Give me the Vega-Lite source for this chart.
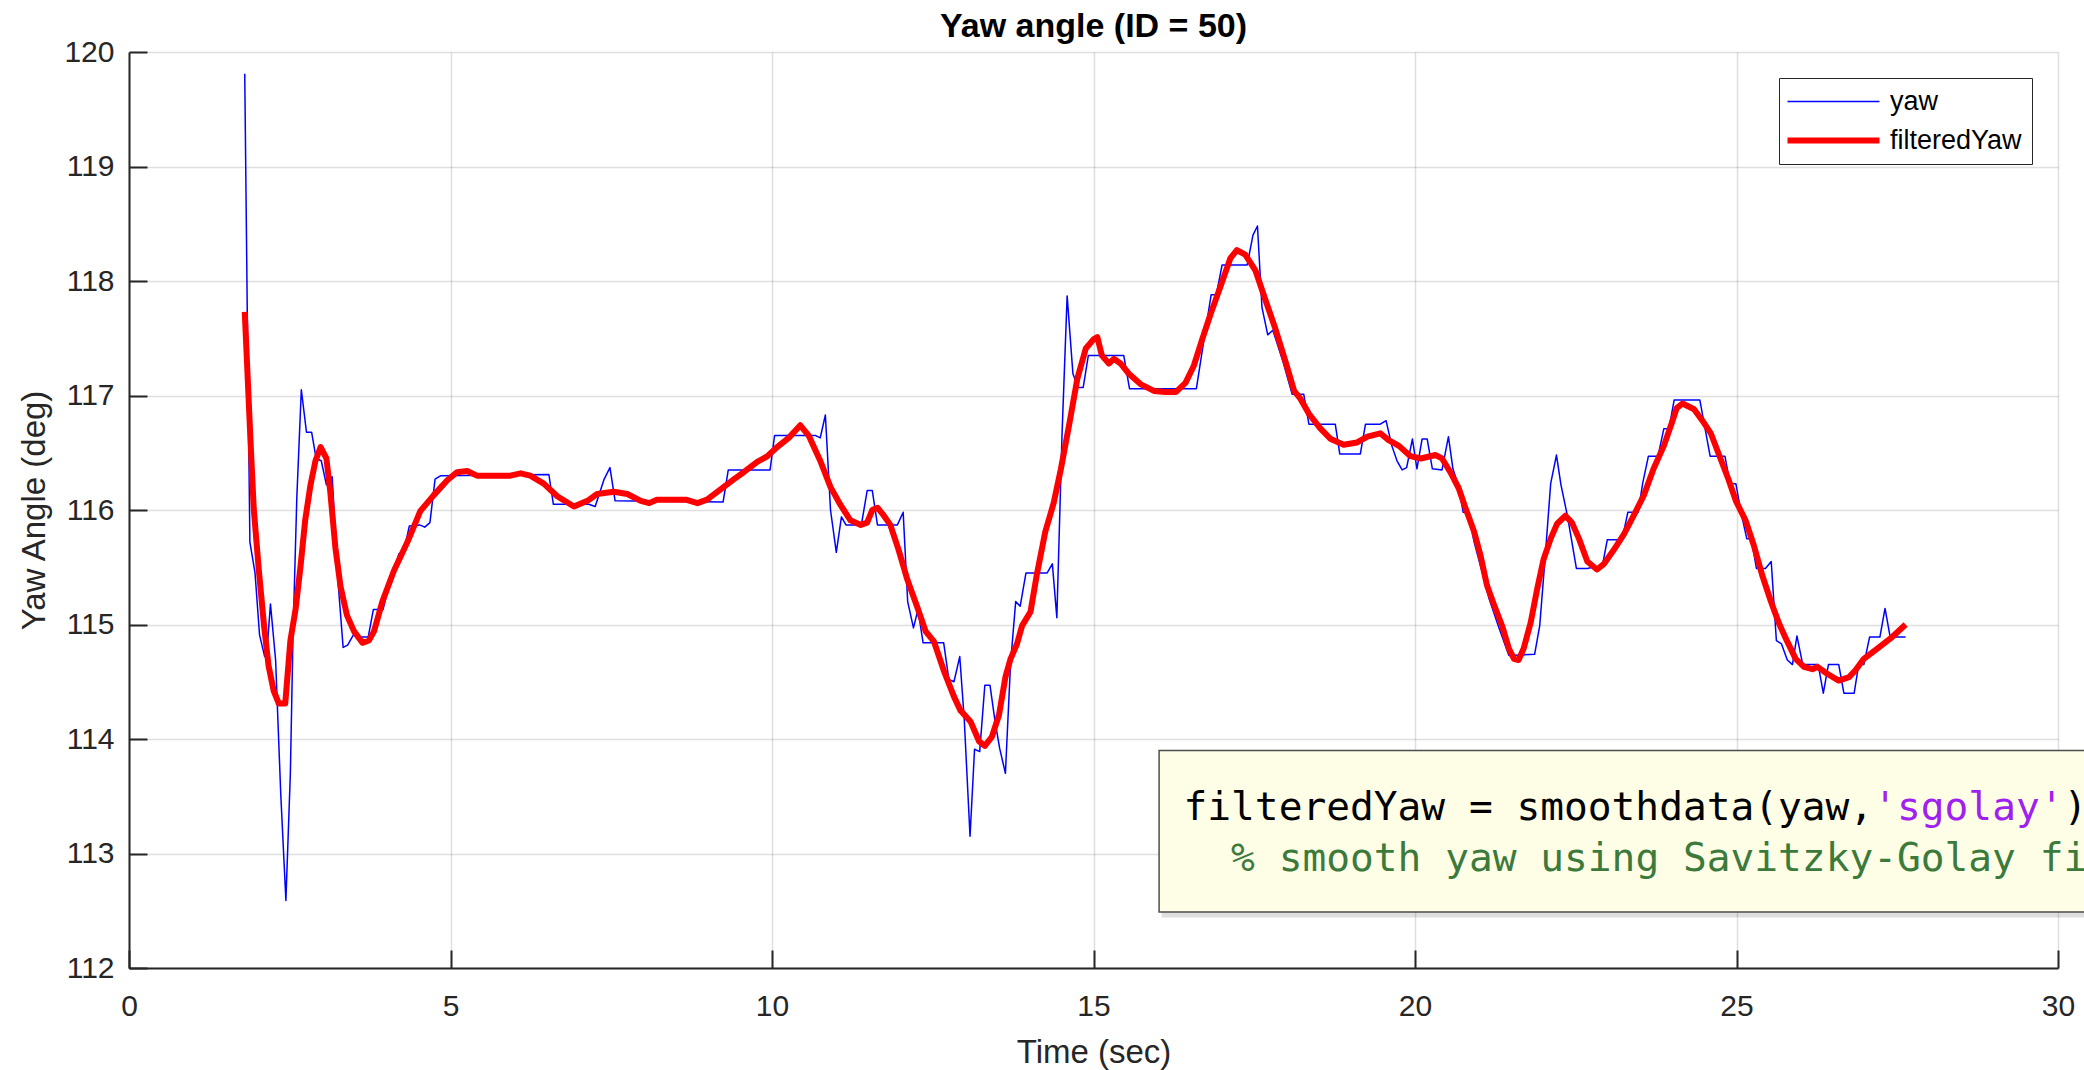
{
  "$schema": "https://vega.github.io/schema/vega-lite/v6.json",
  "width": 1929,
  "height": 916,
  "autosize": {"type": "none"},
  "padding": {"left": 129, "top": 52, "right": 26, "bottom": 102},
  "background": "white",
  "title": {"text": "Yaw angle (ID = 50)", "font": "Liberation Sans", "fontSize": 34, "fontWeight": "bold", "color": "black", "anchor": "middle", "frame": "group", "offset": -7},
  "config": {
    "view": {"stroke": null},
    "axis": {
      "domainColor": "#262626", "domainWidth": 2,
      "tickColor": "#262626", "tickWidth": 2, "tickSize": -18,
      "gridColor": "#262626", "gridOpacity": 0.15, "gridWidth": 1.5,
      "labelFont": "Liberation Sans", "labelFontSize": 30, "labelColor": "#262626",
      "labelFlush": false, "labelOverlap": false, "format": "d",
      "titleFont": "Liberation Sans", "titleFontSize": 33, "titleFontWeight": "normal", "titleColor": "#262626"
    },
    "axisX": {"labelPadding": 41, "titlePadding": 15},
    "axisY": {"labelPadding": 33, "titlePadding": 12},
    "legend": {
      "orient": "top-right", "offset": 26, "strokeColor": "#262626", "fillColor": "white", "padding": 10,
      "labelFont": "Liberation Sans", "labelFontSize": 27, "labelColor": "black",
      "symbolType": "M-1,0H45", "symbolSize": 16, "symbolOffset": -13, "labelOffset": 87, "rowPadding": 11
    }
  },
  "datasets": {
    "yaw": [
      {"t":1.80,"v":119.81,"series":"yaw"},{"t":1.84,"v":117.70,"series":"yaw"},{"t":1.88,"v":115.72,"series":"yaw"},{"t":1.96,"v":115.45,"series":"yaw"},
      {"t":2.03,"v":114.91,"series":"yaw"},{"t":2.11,"v":114.72,"series":"yaw"},{"t":2.15,"v":114.80,"series":"yaw"},{"t":2.20,"v":115.18,"series":"yaw"},
      {"t":2.28,"v":114.69,"series":"yaw"},{"t":2.36,"v":113.52,"series":"yaw"},{"t":2.44,"v":112.59,"series":"yaw"},{"t":2.51,"v":113.71,"series":"yaw"},
      {"t":2.55,"v":114.89,"series":"yaw"},{"t":2.61,"v":116.11,"series":"yaw"},{"t":2.68,"v":117.05,"series":"yaw"},{"t":2.76,"v":116.68,"series":"yaw"},
      {"t":2.84,"v":116.68,"series":"yaw"},{"t":2.91,"v":116.45,"series":"yaw"},{"t":2.99,"v":116.43,"series":"yaw"},{"t":3.07,"v":116.22,"series":"yaw"},
      {"t":3.16,"v":116.29,"series":"yaw"},{"t":3.25,"v":115.38,"series":"yaw"},{"t":3.33,"v":114.80,"series":"yaw"},{"t":3.40,"v":114.82,"series":"yaw"},
      {"t":3.49,"v":114.91,"series":"yaw"},{"t":3.56,"v":114.89,"series":"yaw"},{"t":3.72,"v":114.89,"series":"yaw"},{"t":3.80,"v":115.13,"series":"yaw"},
      {"t":3.95,"v":115.13,"series":"yaw"},{"t":4.04,"v":115.33,"series":"yaw"},{"t":4.20,"v":115.62,"series":"yaw"},{"t":4.27,"v":115.63,"series":"yaw"},
      {"t":4.36,"v":115.86,"series":"yaw"},{"t":4.52,"v":115.87,"series":"yaw"},{"t":4.60,"v":115.85,"series":"yaw"},{"t":4.68,"v":115.89,"series":"yaw"},
      {"t":4.76,"v":116.27,"series":"yaw"},{"t":4.85,"v":116.30,"series":"yaw"},{"t":6.53,"v":116.31,"series":"yaw"},{"t":6.60,"v":116.05,"series":"yaw"},
      {"t":7.15,"v":116.05,"series":"yaw"},{"t":7.25,"v":116.03,"series":"yaw"},{"t":7.39,"v":116.27,"series":"yaw"},{"t":7.48,"v":116.37,"series":"yaw"},
      {"t":7.56,"v":116.08,"series":"yaw"},{"t":9.24,"v":116.07,"series":"yaw"},{"t":9.32,"v":116.35,"series":"yaw"},{"t":9.97,"v":116.35,"series":"yaw"},
      {"t":10.04,"v":116.65,"series":"yaw"},{"t":10.68,"v":116.65,"series":"yaw"},{"t":10.75,"v":116.63,"series":"yaw"},{"t":10.83,"v":116.83,"series":"yaw"},
      {"t":10.91,"v":116.00,"series":"yaw"},{"t":11.00,"v":115.63,"series":"yaw"},{"t":11.08,"v":115.94,"series":"yaw"},{"t":11.15,"v":115.87,"series":"yaw"},
      {"t":11.39,"v":115.87,"series":"yaw"},{"t":11.48,"v":116.17,"series":"yaw"},{"t":11.56,"v":116.17,"series":"yaw"},{"t":11.64,"v":115.87,"series":"yaw"},
      {"t":11.95,"v":115.87,"series":"yaw"},{"t":12.04,"v":115.98,"series":"yaw"},{"t":12.11,"v":115.20,"series":"yaw"},{"t":12.20,"v":114.97,"series":"yaw"},
      {"t":12.27,"v":115.13,"series":"yaw"},{"t":12.35,"v":114.84,"series":"yaw"},{"t":12.67,"v":114.84,"series":"yaw"},{"t":12.75,"v":114.52,"series":"yaw"},
      {"t":12.83,"v":114.50,"series":"yaw"},{"t":12.92,"v":114.72,"series":"yaw"},{"t":12.99,"v":114.17,"series":"yaw"},{"t":13.08,"v":113.15,"series":"yaw"},
      {"t":13.15,"v":113.91,"series":"yaw"},{"t":13.23,"v":113.89,"series":"yaw"},{"t":13.31,"v":114.47,"series":"yaw"},{"t":13.39,"v":114.47,"series":"yaw"},
      {"t":13.47,"v":114.15,"series":"yaw"},{"t":13.54,"v":113.92,"series":"yaw"},{"t":13.63,"v":113.70,"series":"yaw"},{"t":13.71,"v":114.66,"series":"yaw"},
      {"t":13.79,"v":115.20,"series":"yaw"},{"t":13.86,"v":115.16,"series":"yaw"},{"t":13.95,"v":115.45,"series":"yaw"},{"t":14.28,"v":115.45,"series":"yaw"},
      {"t":14.36,"v":115.53,"series":"yaw"},{"t":14.43,"v":115.06,"series":"yaw"},{"t":14.51,"v":116.65,"series":"yaw"},{"t":14.59,"v":117.87,"series":"yaw"},
      {"t":14.68,"v":117.19,"series":"yaw"},{"t":14.76,"v":117.07,"series":"yaw"},{"t":14.84,"v":117.07,"series":"yaw"},{"t":14.92,"v":117.35,"series":"yaw"},
      {"t":15.47,"v":117.35,"series":"yaw"},{"t":15.56,"v":117.06,"series":"yaw"},{"t":16.60,"v":117.06,"series":"yaw"},{"t":16.68,"v":117.35,"series":"yaw"},
      {"t":16.83,"v":117.88,"series":"yaw"},{"t":16.91,"v":117.88,"series":"yaw"},{"t":17.00,"v":118.14,"series":"yaw"},{"t":17.39,"v":118.14,"series":"yaw"},
      {"t":17.48,"v":118.40,"series":"yaw"},{"t":17.55,"v":118.48,"series":"yaw"},{"t":17.62,"v":117.77,"series":"yaw"},{"t":17.71,"v":117.53,"series":"yaw"},
      {"t":17.79,"v":117.57,"series":"yaw"},{"t":17.87,"v":117.43,"series":"yaw"},{"t":17.95,"v":117.29,"series":"yaw"},{"t":18.09,"v":117.01,"series":"yaw"},
      {"t":18.27,"v":117.01,"series":"yaw"},{"t":18.35,"v":116.75,"series":"yaw"},{"t":18.76,"v":116.75,"series":"yaw"},{"t":18.83,"v":116.49,"series":"yaw"},
      {"t":19.15,"v":116.49,"series":"yaw"},{"t":19.23,"v":116.75,"series":"yaw"},{"t":19.46,"v":116.75,"series":"yaw"},{"t":19.55,"v":116.78,"series":"yaw"},
      {"t":19.64,"v":116.56,"series":"yaw"},{"t":19.72,"v":116.43,"series":"yaw"},{"t":19.80,"v":116.35,"series":"yaw"},{"t":19.87,"v":116.37,"series":"yaw"},
      {"t":19.96,"v":116.62,"series":"yaw"},{"t":20.03,"v":116.36,"series":"yaw"},{"t":20.11,"v":116.62,"series":"yaw"},{"t":20.19,"v":116.62,"series":"yaw"},
      {"t":20.27,"v":116.36,"series":"yaw"},{"t":20.42,"v":116.35,"series":"yaw"},{"t":20.52,"v":116.64,"series":"yaw"},{"t":20.59,"v":116.36,"series":"yaw"},
      {"t":20.67,"v":116.22,"series":"yaw"},{"t":20.75,"v":115.98,"series":"yaw"},{"t":20.83,"v":115.97,"series":"yaw"},{"t":20.92,"v":115.72,"series":"yaw"},
      {"t":21.15,"v":115.23,"series":"yaw"},{"t":21.30,"v":114.98,"series":"yaw"},{"t":21.46,"v":114.73,"series":"yaw"},{"t":21.86,"v":114.74,"series":"yaw"},
      {"t":21.94,"v":114.99,"series":"yaw"},{"t":22.03,"v":115.63,"series":"yaw"},{"t":22.11,"v":116.23,"series":"yaw"},{"t":22.20,"v":116.48,"series":"yaw"},
      {"t":22.27,"v":116.22,"series":"yaw"},{"t":22.37,"v":115.95,"series":"yaw"},{"t":22.51,"v":115.49,"series":"yaw"},{"t":22.68,"v":115.49,"series":"yaw"},
      {"t":22.76,"v":115.50,"series":"yaw"},{"t":22.91,"v":115.50,"series":"yaw"},{"t":22.99,"v":115.74,"series":"yaw"},{"t":23.22,"v":115.74,"series":"yaw"},
      {"t":23.31,"v":115.98,"series":"yaw"},{"t":23.47,"v":115.98,"series":"yaw"},{"t":23.54,"v":116.23,"series":"yaw"},{"t":23.63,"v":116.47,"series":"yaw"},
      {"t":23.78,"v":116.47,"series":"yaw"},{"t":23.87,"v":116.71,"series":"yaw"},{"t":23.95,"v":116.71,"series":"yaw"},{"t":24.03,"v":116.96,"series":"yaw"},
      {"t":24.43,"v":116.96,"series":"yaw"},{"t":24.59,"v":116.47,"series":"yaw"},{"t":24.82,"v":116.47,"series":"yaw"},{"t":24.90,"v":116.23,"series":"yaw"},
      {"t":24.99,"v":116.23,"series":"yaw"},{"t":25.07,"v":115.98,"series":"yaw"},{"t":25.16,"v":115.75,"series":"yaw"},{"t":25.23,"v":115.75,"series":"yaw"},
      {"t":25.31,"v":115.49,"series":"yaw"},{"t":25.45,"v":115.49,"series":"yaw"},{"t":25.54,"v":115.55,"series":"yaw"},{"t":25.62,"v":114.86,"series":"yaw"},
      {"t":25.70,"v":114.83,"series":"yaw"},{"t":25.79,"v":114.69,"series":"yaw"},{"t":25.87,"v":114.65,"series":"yaw"},{"t":25.94,"v":114.90,"series":"yaw"},
      {"t":26.03,"v":114.65,"series":"yaw"},{"t":26.27,"v":114.65,"series":"yaw"},{"t":26.35,"v":114.40,"series":"yaw"},{"t":26.43,"v":114.65,"series":"yaw"},
      {"t":26.59,"v":114.65,"series":"yaw"},{"t":26.67,"v":114.40,"series":"yaw"},{"t":26.83,"v":114.40,"series":"yaw"},{"t":26.90,"v":114.65,"series":"yaw"},
      {"t":26.98,"v":114.65,"series":"yaw"},{"t":27.07,"v":114.89,"series":"yaw"},{"t":27.23,"v":114.89,"series":"yaw"},{"t":27.31,"v":115.14,"series":"yaw"},
      {"t":27.39,"v":114.89,"series":"yaw"},{"t":27.63,"v":114.89,"series":"yaw"}
    ],
    "filt": [
      {"t":1.80,"v":117.73,"series":"filteredYaw"},{"t":1.89,"v":116.60,"series":"filteredYaw"},{"t":1.94,"v":116.01,"series":"filteredYaw"},{"t":2.02,"v":115.47,"series":"filteredYaw"},
      {"t":2.10,"v":114.99,"series":"filteredYaw"},{"t":2.17,"v":114.64,"series":"filteredYaw"},{"t":2.25,"v":114.42,"series":"filteredYaw"},{"t":2.33,"v":114.31,"series":"filteredYaw"},
      {"t":2.43,"v":114.31,"series":"filteredYaw"},{"t":2.51,"v":114.86,"series":"filteredYaw"},{"t":2.59,"v":115.13,"series":"filteredYaw"},{"t":2.67,"v":115.52,"series":"filteredYaw"},
      {"t":2.74,"v":115.91,"series":"filteredYaw"},{"t":2.82,"v":116.21,"series":"filteredYaw"},{"t":2.90,"v":116.43,"series":"filteredYaw"},{"t":2.98,"v":116.55,"series":"filteredYaw"},
      {"t":3.07,"v":116.45,"series":"filteredYaw"},{"t":3.13,"v":116.16,"series":"filteredYaw"},{"t":3.21,"v":115.67,"series":"filteredYaw"},{"t":3.29,"v":115.33,"series":"filteredYaw"},
      {"t":3.39,"v":115.08,"series":"filteredYaw"},{"t":3.50,"v":114.94,"series":"filteredYaw"},{"t":3.63,"v":114.84,"series":"filteredYaw"},{"t":3.73,"v":114.86,"series":"filteredYaw"},
      {"t":3.81,"v":114.94,"series":"filteredYaw"},{"t":3.94,"v":115.20,"series":"filteredYaw"},{"t":4.12,"v":115.47,"series":"filteredYaw"},{"t":4.33,"v":115.72,"series":"filteredYaw"},
      {"t":4.53,"v":115.99,"series":"filteredYaw"},{"t":4.74,"v":116.13,"series":"filteredYaw"},{"t":4.95,"v":116.26,"series":"filteredYaw"},{"t":5.10,"v":116.33,"series":"filteredYaw"},
      {"t":5.26,"v":116.34,"series":"filteredYaw"},{"t":5.41,"v":116.30,"series":"filteredYaw"},{"t":5.93,"v":116.30,"series":"filteredYaw"},{"t":6.09,"v":116.32,"series":"filteredYaw"},
      {"t":6.24,"v":116.30,"series":"filteredYaw"},{"t":6.45,"v":116.23,"series":"filteredYaw"},{"t":6.66,"v":116.12,"series":"filteredYaw"},{"t":6.92,"v":116.03,"series":"filteredYaw"},
      {"t":7.13,"v":116.08,"series":"filteredYaw"},{"t":7.28,"v":116.14,"series":"filteredYaw"},{"t":7.54,"v":116.16,"series":"filteredYaw"},{"t":7.75,"v":116.14,"series":"filteredYaw"},
      {"t":7.96,"v":116.08,"series":"filteredYaw"},{"t":8.09,"v":116.06,"series":"filteredYaw"},{"t":8.21,"v":116.09,"series":"filteredYaw"},{"t":8.66,"v":116.09,"series":"filteredYaw"},
      {"t":8.84,"v":116.06,"series":"filteredYaw"},{"t":8.99,"v":116.09,"series":"filteredYaw"},{"t":9.20,"v":116.18,"series":"filteredYaw"},{"t":9.41,"v":116.27,"series":"filteredYaw"},
      {"t":9.56,"v":116.33,"series":"filteredYaw"},{"t":9.77,"v":116.42,"series":"filteredYaw"},{"t":9.93,"v":116.47,"series":"filteredYaw"},{"t":10.08,"v":116.55,"series":"filteredYaw"},
      {"t":10.26,"v":116.63,"series":"filteredYaw"},{"t":10.44,"v":116.74,"series":"filteredYaw"},{"t":10.57,"v":116.65,"series":"filteredYaw"},{"t":10.75,"v":116.43,"series":"filteredYaw"},
      {"t":10.91,"v":116.20,"series":"filteredYaw"},{"t":11.07,"v":116.04,"series":"filteredYaw"},{"t":11.22,"v":115.91,"series":"filteredYaw"},{"t":11.38,"v":115.87,"series":"filteredYaw"},
      {"t":11.48,"v":115.89,"series":"filteredYaw"},{"t":11.56,"v":116.00,"series":"filteredYaw"},{"t":11.64,"v":116.02,"series":"filteredYaw"},{"t":11.74,"v":115.95,"series":"filteredYaw"},
      {"t":11.84,"v":115.87,"series":"filteredYaw"},{"t":11.97,"v":115.65,"series":"filteredYaw"},{"t":12.10,"v":115.40,"series":"filteredYaw"},{"t":12.26,"v":115.15,"series":"filteredYaw"},
      {"t":12.39,"v":114.94,"series":"filteredYaw"},{"t":12.52,"v":114.85,"series":"filteredYaw"},{"t":12.67,"v":114.60,"series":"filteredYaw"},{"t":12.83,"v":114.37,"series":"filteredYaw"},
      {"t":12.93,"v":114.25,"series":"filteredYaw"},{"t":13.09,"v":114.15,"series":"filteredYaw"},{"t":13.22,"v":113.98,"series":"filteredYaw"},{"t":13.31,"v":113.94,"series":"filteredYaw"},
      {"t":13.42,"v":114.02,"series":"filteredYaw"},{"t":13.53,"v":114.21,"series":"filteredYaw"},{"t":13.63,"v":114.54,"series":"filteredYaw"},{"t":13.71,"v":114.70,"series":"filteredYaw"},
      {"t":13.81,"v":114.83,"series":"filteredYaw"},{"t":13.89,"v":114.99,"series":"filteredYaw"},{"t":14.02,"v":115.11,"series":"filteredYaw"},{"t":14.12,"v":115.44,"series":"filteredYaw"},
      {"t":14.25,"v":115.81,"series":"filteredYaw"},{"t":14.38,"v":116.06,"series":"filteredYaw"},{"t":14.49,"v":116.35,"series":"filteredYaw"},{"t":14.62,"v":116.74,"series":"filteredYaw"},
      {"t":14.75,"v":117.15,"series":"filteredYaw"},{"t":14.88,"v":117.41,"series":"filteredYaw"},{"t":15.00,"v":117.49,"series":"filteredYaw"},{"t":15.06,"v":117.51,"series":"filteredYaw"},
      {"t":15.13,"v":117.35,"series":"filteredYaw"},{"t":15.24,"v":117.28,"series":"filteredYaw"},{"t":15.32,"v":117.32,"series":"filteredYaw"},{"t":15.42,"v":117.28,"series":"filteredYaw"},
      {"t":15.55,"v":117.19,"series":"filteredYaw"},{"t":15.73,"v":117.10,"series":"filteredYaw"},{"t":15.94,"v":117.04,"series":"filteredYaw"},{"t":16.12,"v":117.03,"series":"filteredYaw"},
      {"t":16.28,"v":117.03,"series":"filteredYaw"},{"t":16.43,"v":117.11,"series":"filteredYaw"},{"t":16.56,"v":117.26,"series":"filteredYaw"},{"t":16.69,"v":117.49,"series":"filteredYaw"},
      {"t":16.82,"v":117.71,"series":"filteredYaw"},{"t":16.98,"v":117.96,"series":"filteredYaw"},{"t":17.13,"v":118.20,"series":"filteredYaw"},{"t":17.23,"v":118.27,"series":"filteredYaw"},
      {"t":17.36,"v":118.23,"series":"filteredYaw"},{"t":17.52,"v":118.09,"series":"filteredYaw"},{"t":17.67,"v":117.84,"series":"filteredYaw"},{"t":17.83,"v":117.58,"series":"filteredYaw"},
      {"t":17.99,"v":117.29,"series":"filteredYaw"},{"t":18.12,"v":117.04,"series":"filteredYaw"},{"t":18.22,"v":116.97,"series":"filteredYaw"},{"t":18.35,"v":116.84,"series":"filteredYaw"},
      {"t":18.53,"v":116.71,"series":"filteredYaw"},{"t":18.69,"v":116.62,"series":"filteredYaw"},{"t":18.89,"v":116.57,"series":"filteredYaw"},{"t":19.10,"v":116.59,"series":"filteredYaw"},
      {"t":19.26,"v":116.64,"series":"filteredYaw"},{"t":19.46,"v":116.67,"series":"filteredYaw"},{"t":19.59,"v":116.61,"series":"filteredYaw"},{"t":19.75,"v":116.56,"series":"filteredYaw"},
      {"t":19.93,"v":116.47,"series":"filteredYaw"},{"t":20.09,"v":116.45,"series":"filteredYaw"},{"t":20.32,"v":116.48,"series":"filteredYaw"},{"t":20.42,"v":116.45,"series":"filteredYaw"},
      {"t":20.55,"v":116.33,"series":"filteredYaw"},{"t":20.68,"v":116.19,"series":"filteredYaw"},{"t":20.79,"v":116.01,"series":"filteredYaw"},{"t":20.92,"v":115.81,"series":"filteredYaw"},
      {"t":21.02,"v":115.60,"series":"filteredYaw"},{"t":21.12,"v":115.34,"series":"filteredYaw"},{"t":21.23,"v":115.17,"series":"filteredYaw"},{"t":21.36,"v":114.98,"series":"filteredYaw"},
      {"t":21.46,"v":114.79,"series":"filteredYaw"},{"t":21.54,"v":114.70,"series":"filteredYaw"},{"t":21.61,"v":114.69,"series":"filteredYaw"},{"t":21.69,"v":114.79,"series":"filteredYaw"},
      {"t":21.80,"v":115.02,"series":"filteredYaw"},{"t":21.90,"v":115.31,"series":"filteredYaw"},{"t":22.00,"v":115.57,"series":"filteredYaw"},{"t":22.11,"v":115.75,"series":"filteredYaw"},
      {"t":22.21,"v":115.88,"series":"filteredYaw"},{"t":22.34,"v":115.95,"series":"filteredYaw"},{"t":22.44,"v":115.89,"series":"filteredYaw"},{"t":22.55,"v":115.75,"series":"filteredYaw"},
      {"t":22.68,"v":115.55,"series":"filteredYaw"},{"t":22.83,"v":115.48,"series":"filteredYaw"},{"t":22.94,"v":115.53,"series":"filteredYaw"},{"t":23.09,"v":115.65,"series":"filteredYaw"},
      {"t":23.25,"v":115.79,"series":"filteredYaw"},{"t":23.40,"v":115.95,"series":"filteredYaw"},{"t":23.56,"v":116.13,"series":"filteredYaw"},{"t":23.71,"v":116.36,"series":"filteredYaw"},
      {"t":23.87,"v":116.56,"series":"filteredYaw"},{"t":24.00,"v":116.77,"series":"filteredYaw"},{"t":24.07,"v":116.89,"series":"filteredYaw"},{"t":24.16,"v":116.93,"series":"filteredYaw"},
      {"t":24.34,"v":116.88,"series":"filteredYaw"},{"t":24.47,"v":116.78,"series":"filteredYaw"},{"t":24.60,"v":116.67,"series":"filteredYaw"},{"t":24.75,"v":116.45,"series":"filteredYaw"},
      {"t":24.88,"v":116.26,"series":"filteredYaw"},{"t":24.99,"v":116.08,"series":"filteredYaw"},{"t":25.14,"v":115.91,"series":"filteredYaw"},{"t":25.27,"v":115.69,"series":"filteredYaw"},
      {"t":25.40,"v":115.43,"series":"filteredYaw"},{"t":25.53,"v":115.21,"series":"filteredYaw"},{"t":25.66,"v":115.01,"series":"filteredYaw"},{"t":25.79,"v":114.85,"series":"filteredYaw"},
      {"t":25.92,"v":114.70,"series":"filteredYaw"},{"t":26.05,"v":114.63,"series":"filteredYaw"},{"t":26.18,"v":114.61,"series":"filteredYaw"},{"t":26.26,"v":114.63,"series":"filteredYaw"},
      {"t":26.41,"v":114.57,"series":"filteredYaw"},{"t":26.59,"v":114.51,"series":"filteredYaw"},{"t":26.75,"v":114.54,"series":"filteredYaw"},{"t":26.85,"v":114.60,"series":"filteredYaw"},
      {"t":26.98,"v":114.70,"series":"filteredYaw"},{"t":27.19,"v":114.79,"series":"filteredYaw"},{"t":27.40,"v":114.88,"series":"filteredYaw"},{"t":27.63,"v":115.00,"series":"filteredYaw"}
    ]
  },
  "layer": [
    {
      "data": {"name": "yaw"},
      "mark": {"type": "line", "strokeJoin": "round"},
      "encoding": {
        "x": {"field": "t", "type": "quantitative", "scale": {"domain": [0, 30], "nice": false, "zero": false}, "axis": {"values": [0, 5, 10, 15, 20, 25, 30], "title": "Time (sec)"}},
        "y": {"field": "v", "type": "quantitative", "scale": {"domain": [112, 120], "nice": false, "zero": false}, "axis": {"values": [112, 113, 114, 115, 116, 117, 118, 119, 120], "title": "Yaw Angle (deg)"}},
        "color": {"field": "series", "type": "nominal", "scale": {"domain": ["yaw", "filteredYaw"], "range": ["#0000ff", "#ff0000"]}, "legend": {"title": null}},
        "strokeWidth": {"field": "series", "type": "nominal", "scale": {"domain": ["yaw", "filteredYaw"], "range": [1.5, 6]}, "legend": {"title": null}}
      }
    },
    {
      "data": {"name": "filt"},
      "mark": {"type": "line", "strokeJoin": "round", "strokeCap": "butt"},
      "encoding": {
        "x": {"field": "t", "type": "quantitative"},
        "y": {"field": "v", "type": "quantitative"},
        "color": {"field": "series", "type": "nominal", "legend": {"title": null}},
        "strokeWidth": {"field": "series", "type": "nominal", "legend": {"title": null}}
      }
    },
    {
      "data": {"values": [{"note": "shadow"}]},
      "mark": {"type": "rect", "fill": "#000000", "opacity": 0.13},
      "encoding": {
        "x": {"datum": 16.06, "type": "quantitative"},
        "x2": {"datum": 30.6},
        "y": {"datum": 112.49, "type": "quantitative"},
        "y2": {"datum": 112.44}
      }
    },
    {
      "data": {"values": [{"note": "code"}]},
      "mark": {"type": "rect", "fill": "#fefee6", "stroke": "#4d4d4d", "strokeWidth": 1.5},
      "encoding": {
        "x": {"datum": 16.02, "type": "quantitative"},
        "x2": {"datum": 30.6},
        "y": {"datum": 113.9, "type": "quantitative"},
        "y2": {"datum": 112.49}
      }
    },
    {
      "data": {"values": [{"text": "filteredYaw = smoothdata(yaw,\u00a0\u00a0\u00a0\u00a0\u00a0\u00a0\u00a0\u00a0);"}]},
      "mark": {"type": "text", "font": "DejaVu Sans Mono", "fontSize": 39.5, "color": "black", "align": "left", "baseline": "alphabetic"},
      "encoding": {
        "x": {"datum": 16.40, "type": "quantitative"},
        "y": {"datum": 113.29, "type": "quantitative"},
        "text": {"field": "text"}
      }
    },
    {
      "data": {"values": [{"text": "'sgolay'"}]},
      "mark": {"type": "text", "font": "DejaVu Sans Mono", "fontSize": 39.5, "color": "#a020f0", "align": "left", "baseline": "alphabetic", "dx": 689.7},
      "encoding": {
        "x": {"datum": 16.40, "type": "quantitative"},
        "y": {"datum": 113.29, "type": "quantitative"},
        "text": {"field": "text"}
      }
    },
    {
      "data": {"values": [{"text": "% smooth yaw using Savitzky-Golay filter"}]},
      "mark": {"type": "text", "font": "DejaVu Sans Mono", "fontSize": 39.5, "color": "#3c7a3c", "align": "left", "baseline": "alphabetic", "dx": 47.6},
      "encoding": {
        "x": {"datum": 16.40, "type": "quantitative"},
        "y": {"datum": 112.847, "type": "quantitative"},
        "text": {"field": "text"}
      }
    }
  ]
}
